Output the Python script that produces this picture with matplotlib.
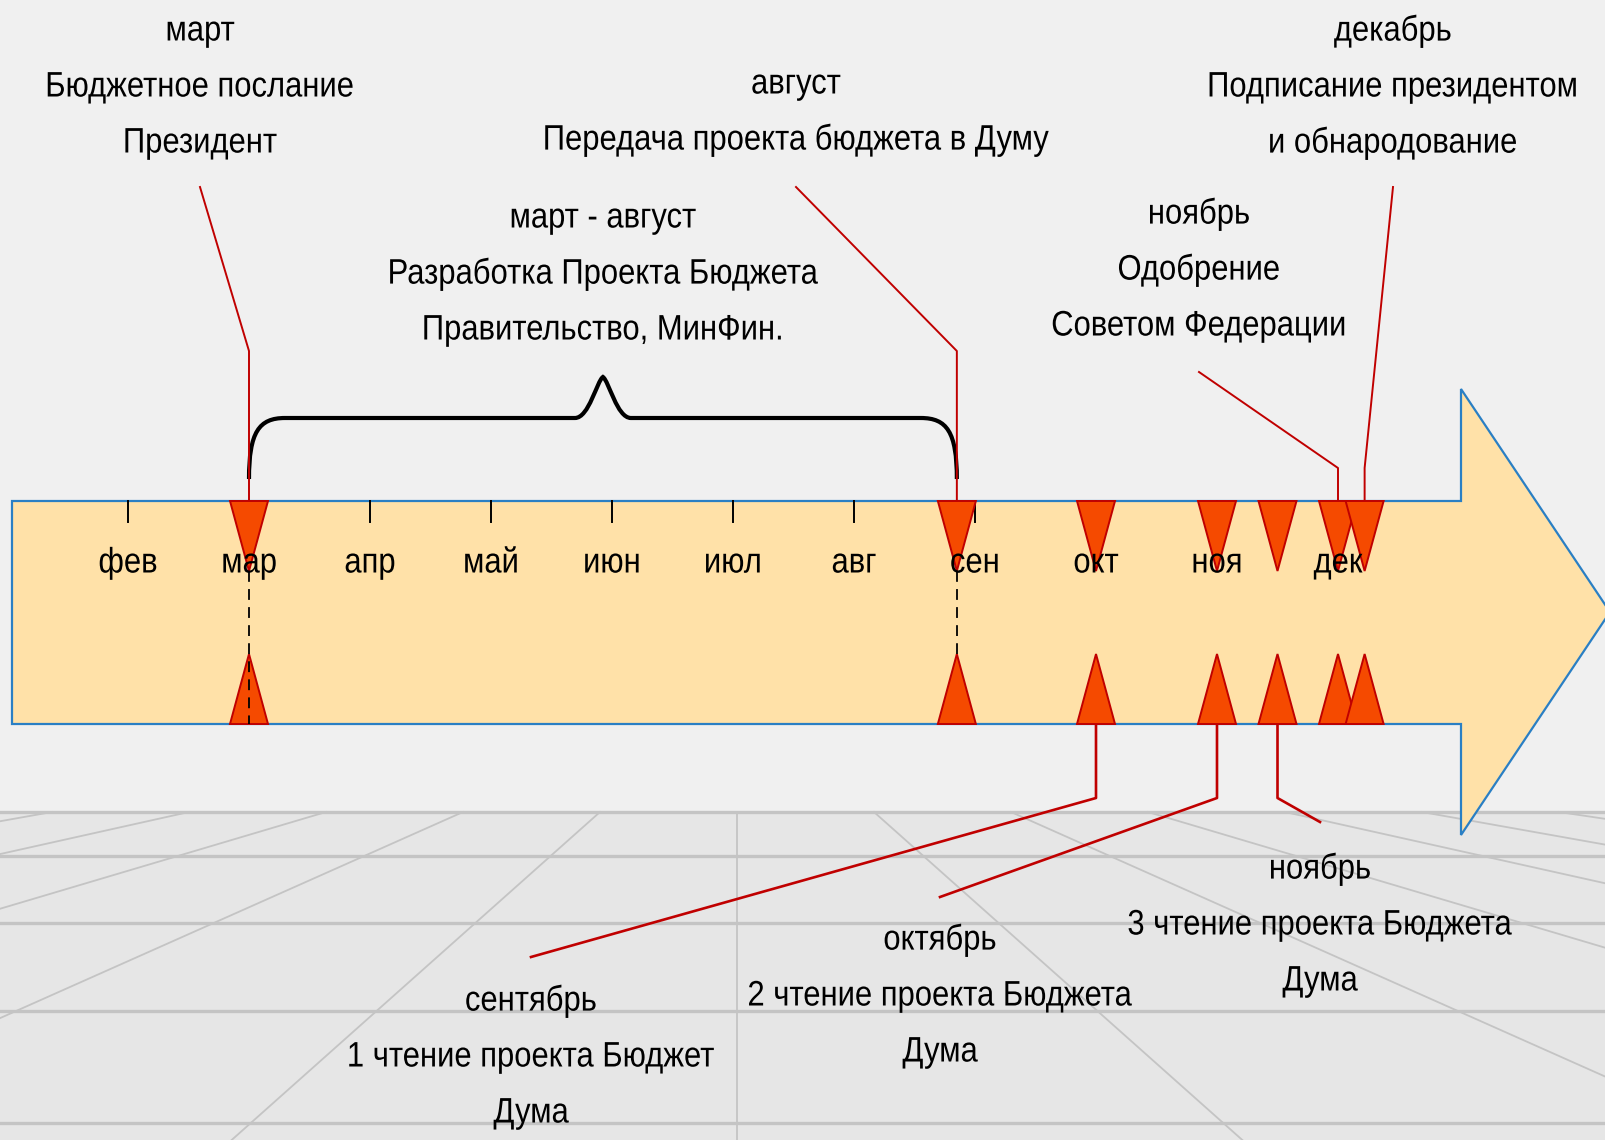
import numpy as np
import matplotlib
matplotlib.use("Agg")
from matplotlib import pyplot as plt
from matplotlib import patheffects
from matplotlib.patches import Polygon, PathPatch
from matplotlib.path import Path
from matplotlib.transforms import Affine2D

plt.rcParams["font.family"] = ["Liberation Sans", "DejaVu Sans"]

# month scale of the arrow
months = ["фев", "мар", "апр", "май", "июн", "июл", "авг", "сен", "окт", "ноя", "дек"]
month_num = [2, 3, 4, 5, 6, 7, 8, 9, 10, 11, 12]

# events above the arrow
top_event = [3.0, 8.85, 12.0, 12.22]
top_labels = [
    ["март", "Бюджетное послание", "Президент"],
    ["август", "Передача проекта бюджета в Думу"],
    ["ноябрь", "Одобрение", "Советом Федерации"],
    ["декабрь", "Подписание президентом", "и обнародование"],
]

# events below the arrow
bottom_event = [10.0, 11.0, 11.5]
bottom_labels = [
    ["сентябрь", "1 чтение проекта Бюджет", "Дума"],
    ["октябрь", "2 чтение проекта Бюджета", "Дума"],
    ["ноябрь", "3 чтение проекта Бюджета", "Дума"],
]

# period under the brace
span = [3.0, 8.85]
span_label = ["март - август", "Разработка Проекта Бюджета", "Правительство, МинФин."]

W, H = 1606, 1140
X0, STEP = 128, 121
FS = 25.5


class Squeeze(patheffects.AbstractPathEffect):
    """narrow the glyphs around the line centre (the slide uses a narrow face)"""

    def __init__(self, sx):
        super().__init__()
        self.sx = sx

    def draw_path(self, renderer, gc, tpath, affine, rgbFace=None):
        bb = tpath.get_extents(affine)
        cx = (bb.x0 + bb.x1) / 2
        affine = affine + Affine2D().translate(-cx, 0).scale(self.sx, 1).translate(cx, 0)
        renderer.draw_path(gc, tpath, affine, rgbFace)


narrow = [Squeeze(0.875)]


def tx(m):
    return X0 + (np.asarray(m) - 2) * STEP


fig = plt.figure(figsize=(W / 100, H / 100), dpi=100)
ax = fig.add_axes([0, 0, 1, 1])
ax.set_xlim(0, W)
ax.set_ylim(H, 0)
ax.axis("off")
fig.patch.set_facecolor("#f0f0f0")

# floor with perspective grid
FLOOR = 812
ax.add_patch(plt.Rectangle((0, FLOOR), W, H - FLOOR, color="#e6e6e6", zorder=0))
vx, vy = 737, 690
for k in range(-6, 7):
    x_top = vx + k * 137
    x_bot = vx + k * 137 * (H - vy) / (FLOOR - vy)
    ax.plot([x_top, x_bot], [FLOOR, H], color="#c4c4c4", lw=1.3, zorder=1)
for y in [812, 856, 923, 1011, 1123]:
    ax.plot([0, W], [y, y], color="#c4c4c4", lw=2.4, zorder=1)

# arrow band
TOP, BOT = 501, 724
arrow = [(12, TOP), (1461, TOP), (1461, 389), (1610, 612), (1461, 835), (1461, BOT), (12, BOT)]
ax.add_patch(Polygon(arrow, closed=True, facecolor="#ffe1a8", edgecolor="#2a7fc4", lw=1.6, zorder=2))

# month ticks and labels
for m, lab in zip(month_num, months):
    x = tx(m)
    ax.plot([x, x], [TOP, TOP + 21], color="black", lw=1.4, zorder=3)
    ax.text(x, 563, lab, ha="center", va="center", fontsize=FS, zorder=5, path_effects=narrow)

# markers
events = sorted(set(top_event + bottom_event))
for m in events:
    x = tx(m)
    ax.add_patch(Polygon([(x - 19, TOP), (x + 19, TOP), (x, TOP + 70)], closed=True,
                         facecolor="#f54a00", edgecolor="#c00000", lw=1.4, zorder=4))
    ax.add_patch(Polygon([(x - 19, BOT), (x + 19, BOT), (x, BOT - 70)], closed=True,
                         facecolor="#f54a00", edgecolor="#c00000", lw=1.4, zorder=4))

# dashed guides at the span ends
ax.plot([tx(span[0])] * 2, [TOP + 70, BOT], color="black", lw=1.3, ls=(0, (6, 4)), zorder=6)
ax.plot([tx(span[1])] * 2, [TOP + 70, BOT - 70], color="black", lw=1.3, ls=(0, (6, 4)), zorder=6)

# brace
xa, xb = tx(span[0]), tx(span[1])
xc = (xa + xb) / 2
yb, yl, yp = 479, 418, 377
verts = [(xa, yb), (xa, yl + 14), (xa + 10, yl), (xa + 36, yl),
         (xc - 28, yl), (xc - 14, yl), (xc - 6, yp + 4), (xc, yp),
         (xc + 6, yp + 4), (xc + 14, yl), (xc + 28, yl),
         (xb - 36, yl), (xb - 10, yl), (xb, yl + 14), (xb, yb)]
codes = [Path.MOVETO, Path.CURVE4, Path.CURVE4, Path.CURVE4,
         Path.LINETO, Path.CURVE4, Path.CURVE4, Path.CURVE4,
         Path.CURVE4, Path.CURVE4, Path.CURVE4,
         Path.LINETO, Path.CURVE4, Path.CURVE4, Path.CURVE4]
ax.add_patch(PathPatch(Path(verts, codes), fill=False, edgecolor="black", lw=3, zorder=3))

LINE = 56


def block(x, y0, lines):
    for i, s in enumerate(lines):
        ax.text(x, y0 + i * LINE, s, ha="center", va="center", fontsize=FS, zorder=5,
                path_effects=narrow)


# top callouts: label x, first line y, line start y, knee y
top_layout = [(200, 31, 187, 351), (796, 84, 187, 351), (1199, 214, 372, 468), (1393, 31, 187, 468)]
for m, lines, (lx, ly, sy, ky) in zip(top_event, top_labels, top_layout):
    x = tx(m)
    block(lx, ly, lines)
    ax.plot([lx, x, x], [sy, ky, TOP], color="#c00000", lw=1.4, zorder=3)

# bottom callouts: label x, first line y, line end x, line end y
bottom_layout = [(531, 1001, 531, 957), (940, 940, 940, 897), (1320, 869, 1320, 822)]
for m, lines, (lx, ly, ex, ey) in zip(bottom_event, bottom_labels, bottom_layout):
    x = tx(m)
    block(lx, ly, lines)
    ax.plot([x, x, ex], [BOT, 798, ey], color="#c00000", lw=1.9, zorder=3)

block(xc, 218, span_label)

fig.savefig("out.png", dpi=100, facecolor=fig.get_facecolor())
